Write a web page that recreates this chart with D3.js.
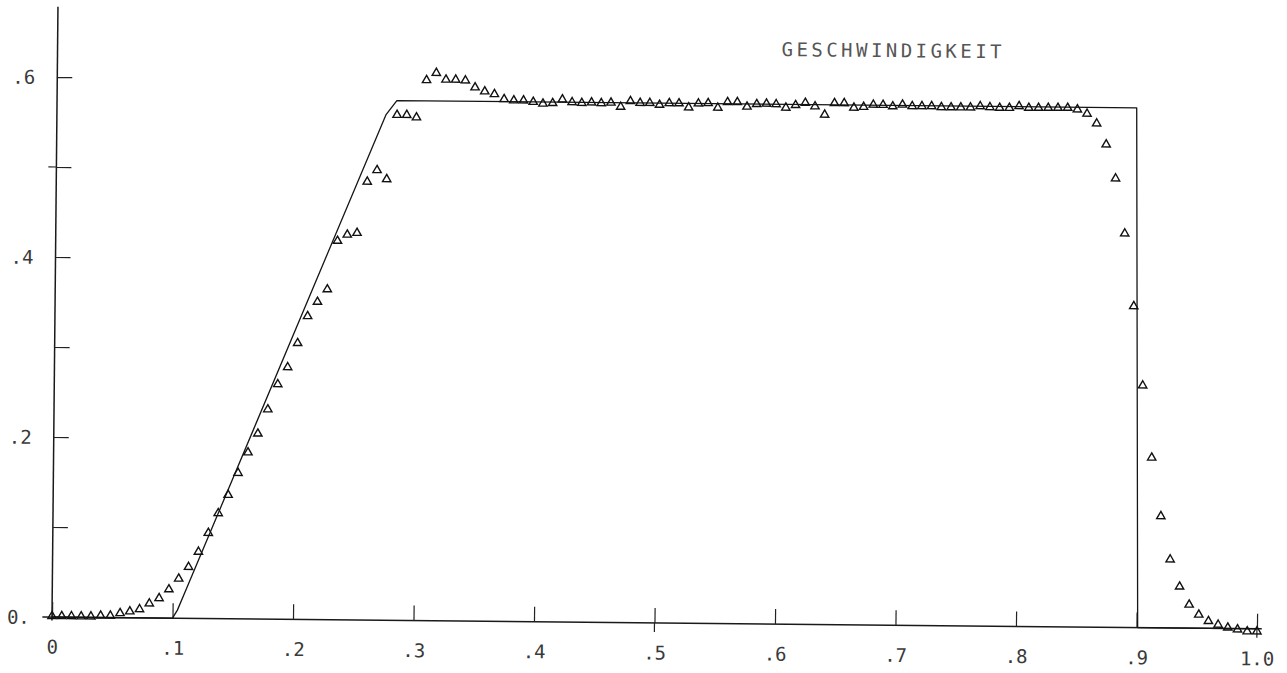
<!DOCTYPE html>
<html>
<head>
<meta charset="utf-8">
<script src="https://cdn.jsdelivr.net/npm/d3@7"></script>
<style>
  html, body { margin: 0; padding: 0; background: #fff; }
  svg { display: block; }
  .tick text { font-family: "DejaVu Sans Mono", monospace; font-size: 19px; fill: #3a3a3a; }
  .tick line { stroke: #222; stroke-width: 1.2; }
</style>
</head>
<body>
<div id="chart"></div>
<script>
// ---- data ----
const title = 'GESCHWINDIGKEIT';

const xTickValues = [0, 0.1, 0.2, 0.3, 0.4, 0.5, 0.6, 0.7, 0.8, 0.9, 1.0];
const xTickLabels = ['0', '.1', '.2', '.3', '.4', '.5', '.6', '.7', '.8', '.9', '1.0'];
const yTickValues = [0, 0.1, 0.2, 0.3, 0.4, 0.5, 0.6];
const yTickLabels = ['0.', '', '.2', '', '.4', '', '.6'];
const majorX = [0.5, 1.0];   // ticks that cross the axis
const majorY = [0.5];

// solid profile (vorgegebene Geschwindigkeit)
const profileX = [0, 0.1, 0.104, 0.112, 0.273, 0.282, 0.896, 0.901, 1.0];
const profileY = [0, 0, 0.009, 0.035, 0.5615, 0.5775, 0.5775, 0, 0];

// triangles, sampled every 1/124
const sampleStep = 1 / 124;
const measured = [
  0.001, 0.001, 0.001, 0.001, 0.001, 0.002, 0.002, 0.005, 0.007, 0.0095,
  0.016, 0.022, 0.032, 0.044, 0.057, 0.074, 0.095, 0.117, 0.1375, 0.162,
  0.185, 0.206, 0.233, 0.261, 0.280, 0.307, 0.337, 0.353, 0.367, 0.421,
  0.428, 0.430, 0.487, 0.500, 0.490, 0.5616, 0.5616, 0.559, 0.6005, 0.6086,
  0.6013, 0.6013, 0.6005, 0.593, 0.5886, 0.5857, 0.5802, 0.579, 0.579, 0.5775,
  0.5757, 0.5764, 0.5805, 0.5775, 0.5768, 0.5775, 0.5768, 0.5775, 0.573, 0.5794,
  0.5775, 0.5775, 0.5756, 0.5775, 0.5775, 0.573, 0.5775, 0.578, 0.573, 0.5794,
  0.5794, 0.5745, 0.5775, 0.578, 0.5775, 0.5738, 0.5768, 0.5794, 0.5756, 0.5664,
  0.5794, 0.5794, 0.5745, 0.5755, 0.578, 0.578, 0.5765, 0.5785, 0.5768, 0.5769,
  0.577, 0.576, 0.576, 0.576, 0.576, 0.5775, 0.5765, 0.576, 0.576, 0.578,
  0.5763, 0.5764, 0.5765, 0.5766, 0.5767, 0.575, 0.5703, 0.5596, 0.5364, 0.4987,
  0.4377, 0.357, 0.269, 0.189, 0.124, 0.076, 0.046, 0.026, 0.015, 0.008,
  0.004, 0.001, -0.001, -0.003, -0.003
];

// ---- layout ----
const width = 1287, height = 673;
const originX = 52, originY = 617;
const tilt = 0.56; // the original sheet sits slightly rotated

const x = d3.scaleLinear().domain([0, 1]).range([originX, 1257]);
const y = d3.scaleLinear().domain([0, 0.6]).range([originY, 77]);

const svg = d3.select('#chart').append('svg')
    .attr('width', width)
    .attr('height', height);

svg.append('rect').attr('width', width).attr('height', height).attr('fill', '#fff');

const g = svg.append('g')
    .attr('transform', `rotate(${tilt}, ${originX}, ${originY})`);

// axis lines
g.append('line')
    .attr('x1', x(-0.008)).attr('x2', x(1.004))
    .attr('y1', y(0)).attr('y2', y(0))
    .attr('stroke', '#1a1a1a').attr('stroke-width', 1.5);

g.append('line')
    .attr('x1', x(0)).attr('x2', x(0))
    .attr('y1', y(-0.004)).attr('y2', y(0.678))
    .attr('stroke', '#1a1a1a').attr('stroke-width', 1.5);

// x axis ticks + labels
const xAxis = d3.axisBottom(x)
    .tickValues(xTickValues)
    .tickSize(-15)
    .tickFormat((d, i) => xTickLabels[i]);

g.append('g')
    .attr('transform', `translate(0,${y(0)})`)
    .call(xAxis)
    .call(a => a.select('.domain').remove())
    .call(a => a.selectAll('text').attr('y', 30).attr('dy', '0.35em'));

// y axis ticks + labels
const yAxis = d3.axisLeft(y)
    .tickValues(yTickValues)
    .tickSize(-15)
    .tickFormat((d, i) => yTickLabels[i]);

g.append('g')
    .attr('transform', `translate(${x(0)},0)`)
    .call(yAxis)
    .call(a => a.select('.domain').remove())
    .call(a => a.selectAll('.tick').filter(d => d === 0).select('line').remove())
    .call(a => a.selectAll('text')
        .attr('text-anchor', 'start')
        .attr('x', 7 - originX)
        .attr('dy', '0.35em'));

// parts of major ticks on the other side of the axis
g.selectAll('line.major-x').data(majorX).join('line')
    .attr('class', 'major-x')
    .attr('x1', d => x(d)).attr('x2', d => x(d))
    .attr('y1', y(0)).attr('y2', y(0) + 9)
    .attr('stroke', '#222').attr('stroke-width', 1.2);

g.selectAll('line.major-y').data(majorY).join('line')
    .attr('class', 'major-y')
    .attr('x1', x(0) - 8).attr('x2', x(0))
    .attr('y1', d => y(d)).attr('y2', d => y(d))
    .attr('stroke', '#222').attr('stroke-width', 1.2);

// solid profile
const line = d3.line()
    .x(d => x(d[0]))
    .y(d => y(d[1]));

g.append('path')
    .datum(d3.zip(profileX, profileY))
    .attr('d', line)
    .attr('fill', 'none')
    .attr('stroke', '#151515')
    .attr('stroke-width', 1.3)
    .attr('stroke-linejoin', 'round');

// triangle markers
const tri = d3.symbol(d3.symbolTriangle, 30);

g.selectAll('path.pt').data(measured).join('path')
    .attr('class', 'pt')
    .attr('transform', (d, i) => `translate(${x(i * sampleStep)},${y(d)})`)
    .attr('d', tri)
    .attr('fill', 'none')
    .attr('stroke', '#111')
    .attr('stroke-width', 1.4);

// title
g.append('text')
    .attr('x', 886)
    .attr('y', 42)
    .attr('text-anchor', 'middle')
    .attr('dominant-baseline', 'central')
    .attr('textLength', 220)
    .attr('lengthAdjust', 'spacing')
    .style('font-family', '"DejaVu Sans Mono", monospace')
    .style('font-size', '19px')
    .style('fill', '#555')
    .text(title);
</script>
</body>
</html>
